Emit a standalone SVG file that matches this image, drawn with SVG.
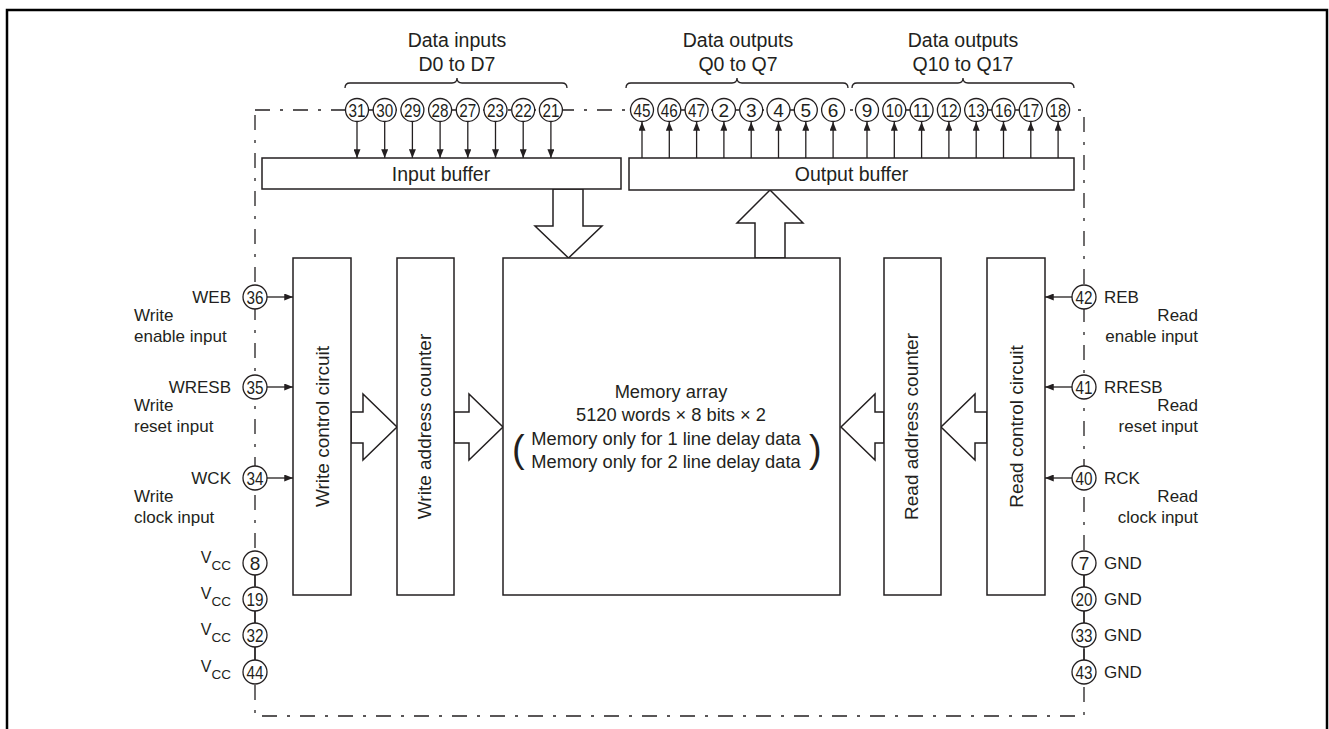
<svg xmlns="http://www.w3.org/2000/svg" width="1329" height="729" viewBox="0 0 1329 729">
<style>
text{font-family:"Liberation Sans",Arial,sans-serif;fill:#231f20;font-size:17px}
.h{font-size:19.5px}
.mem{font-size:18.3px}
.v{font-size:19px}
.m{text-anchor:middle}
.e{text-anchor:end}
.n{font-size:19px;text-anchor:middle}
.box{fill:#fff;stroke:#231f20;stroke-width:1.5}
.pin{fill:#fff;stroke:#231f20;stroke-width:1.3}
.ln{stroke:#231f20;stroke-width:1.3;fill:none}
.dd{stroke:#231f20;stroke-width:1.3;fill:none;stroke-dasharray:15 10 3 10}
.ha{fill:#fff;stroke:#231f20;stroke-width:1.5}
.br{stroke:#231f20;stroke-width:1.3;fill:none}
</style>
<defs>
<marker id="ah" viewBox="0 0 10 8" refX="10" refY="4" markerWidth="10" markerHeight="7" markerUnits="userSpaceOnUse" orient="auto"><path d="M0,0 L10,4 L0,8 z" fill="#231f20"/></marker>
</defs>
<rect width="1329" height="729" fill="#fff"/>
<path d="M7,740 V10 H1327 V740" fill="none" stroke="#000" stroke-width="2.5"/>

<g id="frame">
<path class="dd" d="M255,110 H1084 V716 H255 Z"/>
<path class="ln" d="M255,563 V672 M1084,563 V672"/>
</g>

<g id="connectors">
<g class="ln" marker-end="url(#ah)">
<line x1="357" y1="121" x2="357" y2="158"/>
<line x1="384.7" y1="121" x2="384.7" y2="158"/>
<line x1="412.4" y1="121" x2="412.4" y2="158"/>
<line x1="440.1" y1="121" x2="440.1" y2="158"/>
<line x1="467.8" y1="121" x2="467.8" y2="158"/>
<line x1="495.5" y1="121" x2="495.5" y2="158"/>
<line x1="523.2" y1="121" x2="523.2" y2="158"/>
<line x1="550.9" y1="121" x2="550.9" y2="158"/>
<line x1="642" y1="158" x2="642" y2="122"/>
<line x1="669.3" y1="158" x2="669.3" y2="122"/>
<line x1="696.6" y1="158" x2="696.6" y2="122"/>
<line x1="723.9" y1="158" x2="723.9" y2="122"/>
<line x1="751.2" y1="158" x2="751.2" y2="122"/>
<line x1="778.5" y1="158" x2="778.5" y2="122"/>
<line x1="805.8" y1="158" x2="805.8" y2="122"/>
<line x1="833.1" y1="158" x2="833.1" y2="122"/>
<line x1="867" y1="158" x2="867" y2="122"/>
<line x1="894.3" y1="158" x2="894.3" y2="122"/>
<line x1="921.6" y1="158" x2="921.6" y2="122"/>
<line x1="948.9" y1="158" x2="948.9" y2="122"/>
<line x1="976.2" y1="158" x2="976.2" y2="122"/>
<line x1="1003.5" y1="158" x2="1003.5" y2="122"/>
<line x1="1030.8" y1="158" x2="1030.8" y2="122"/>
<line x1="1058.1" y1="158" x2="1058.1" y2="122"/>
<line x1="267" y1="297" x2="293" y2="297"/>
<line x1="267" y1="387" x2="293" y2="387"/>
<line x1="267" y1="478" x2="293" y2="478"/>
<line x1="1072" y1="297" x2="1045" y2="297"/>
<line x1="1072" y1="387" x2="1045" y2="387"/>
<line x1="1072" y1="478" x2="1045" y2="478"/>
</g>
<polygon class="ha" points="553,189 583,189 583,226 602,226 568.5,258 535,226 553,226"/>
<polygon class="ha" points="755,258 755,223 737,223 770,190 803,223 785,223 785,258"/>
<polygon class="ha" points="351,412 363,412 363,394 397,427 363,460 363,443 351,443"/>
<polygon class="ha" points="454,412 469,412 469,394 503,427 469,460 469,443 454,443"/>
<polygon class="ha" points="884,412 875,412 875,394 841,427 875,460 875,443 884,443"/>
<polygon class="ha" points="987,412 975,412 975,394 941,427 975,460 975,443 987,443"/>
</g>

<g id="braces">
<path class="br" d="M345,88 Q345,83 350,83 H452 Q457,83 457,78 Q457,83 462,83 H562 Q567,83 567,88"/>
<path class="br" d="M626,88 Q626,83 631,83 H732 Q737,83 737,78 Q737,83 742,83 H843 Q848,83 848,88"/>
<path class="br" d="M852,88 Q852,83 857,83 H958 Q963,83 963,78 Q963,83 968,83 H1069 Q1074,83 1074,88"/>
<text class="h m" x="457" y="47">Data inputs</text>
<text class="h m" x="457" y="71">D0 to D7</text>
<text class="h m" x="738" y="47">Data outputs</text>
<text class="h m" x="738" y="71">Q0 to Q7</text>
<text class="h m" x="963" y="47">Data outputs</text>
<text class="h m" x="963" y="71">Q10 to Q17</text>
</g>

<g id="input-buffer">
<rect class="box" x="262" y="158" width="359" height="31"/>
<text class="h m" x="441" y="181">Input buffer</text>
</g>
<g id="output-buffer">
<rect class="box" x="629" y="158" width="445" height="32"/>
<text class="h m" x="851.5" y="181">Output buffer</text>
</g>

<g id="memory-array">
<rect class="box" x="503" y="258" width="337" height="337"/>
<text class="mem m" x="671" y="398">Memory array</text>
<text class="mem m" x="671" y="421">5120 words × 8 bits × 2</text>
<text class="mem m" x="666" y="445">Memory only for 1 line delay data</text>
<text class="mem m" x="666" y="468">Memory only for 2 line delay data</text>
<text x="512" y="462" style="font-size:38px">(</text>
<text x="809" y="462" style="font-size:38px">)</text>
</g>

<g id="write-control">
<rect class="box" x="293" y="258" width="58" height="337"/>
<text class="v m" transform="translate(328.5,426.5) rotate(-90)">Write control circuit</text>
</g>
<g id="write-address">
<rect class="box" x="397" y="258" width="57" height="337"/>
<text class="v m" transform="translate(430.5,426.5) rotate(-90)">Write address counter</text>
</g>
<g id="read-address">
<rect class="box" x="884" y="258" width="57" height="337"/>
<text class="v m" transform="translate(918,426.5) rotate(-90)">Read address counter</text>
</g>
<g id="read-control">
<rect class="box" x="987" y="258" width="58" height="337"/>
<text class="v m" transform="translate(1023,426.5) rotate(-90)">Read control circuit</text>
</g>

<g id="pins-data-in">
<circle class="pin" cx="357" cy="110" r="11.5"/><text class="n" x="357" y="117" textLength="17" lengthAdjust="spacingAndGlyphs">31</text>
<circle class="pin" cx="384.7" cy="110" r="11.5"/><text class="n" x="384.7" y="117" textLength="17" lengthAdjust="spacingAndGlyphs">30</text>
<circle class="pin" cx="412.4" cy="110" r="11.5"/><text class="n" x="412.4" y="117" textLength="17" lengthAdjust="spacingAndGlyphs">29</text>
<circle class="pin" cx="440.1" cy="110" r="11.5"/><text class="n" x="440.1" y="117" textLength="17" lengthAdjust="spacingAndGlyphs">28</text>
<circle class="pin" cx="467.8" cy="110" r="11.5"/><text class="n" x="467.8" y="117" textLength="17" lengthAdjust="spacingAndGlyphs">27</text>
<circle class="pin" cx="495.5" cy="110" r="11.5"/><text class="n" x="495.5" y="117" textLength="17" lengthAdjust="spacingAndGlyphs">23</text>
<circle class="pin" cx="523.2" cy="110" r="11.5"/><text class="n" x="523.2" y="117" textLength="17" lengthAdjust="spacingAndGlyphs">22</text>
<circle class="pin" cx="550.9" cy="110" r="11.5"/><text class="n" x="550.9" y="117" textLength="17" lengthAdjust="spacingAndGlyphs">21</text>
</g>
<g id="pins-data-out-q0">
<circle class="pin" cx="642" cy="110" r="11.5"/><text class="n" x="642" y="117" textLength="17" lengthAdjust="spacingAndGlyphs">45</text>
<circle class="pin" cx="669.3" cy="110" r="11.5"/><text class="n" x="669.3" y="117" textLength="17" lengthAdjust="spacingAndGlyphs">46</text>
<circle class="pin" cx="696.6" cy="110" r="11.5"/><text class="n" x="696.6" y="117" textLength="17" lengthAdjust="spacingAndGlyphs">47</text>
<circle class="pin" cx="723.9" cy="110" r="11.5"/><text class="n" x="723.9" y="117">2</text>
<circle class="pin" cx="751.2" cy="110" r="11.5"/><text class="n" x="751.2" y="117">3</text>
<circle class="pin" cx="778.5" cy="110" r="11.5"/><text class="n" x="778.5" y="117">4</text>
<circle class="pin" cx="805.8" cy="110" r="11.5"/><text class="n" x="805.8" y="117">5</text>
<circle class="pin" cx="833.1" cy="110" r="11.5"/><text class="n" x="833.1" y="117">6</text>
</g>
<g id="pins-data-out-q10">
<circle class="pin" cx="867" cy="110" r="11.5"/><text class="n" x="867" y="117">9</text>
<circle class="pin" cx="894.3" cy="110" r="11.5"/><text class="n" x="894.3" y="117" textLength="17" lengthAdjust="spacingAndGlyphs">10</text>
<circle class="pin" cx="921.6" cy="110" r="11.5"/><text class="n" x="921.6" y="117" textLength="17" lengthAdjust="spacingAndGlyphs">11</text>
<circle class="pin" cx="948.9" cy="110" r="11.5"/><text class="n" x="948.9" y="117" textLength="17" lengthAdjust="spacingAndGlyphs">12</text>
<circle class="pin" cx="976.2" cy="110" r="11.5"/><text class="n" x="976.2" y="117" textLength="17" lengthAdjust="spacingAndGlyphs">13</text>
<circle class="pin" cx="1003.5" cy="110" r="11.5"/><text class="n" x="1003.5" y="117" textLength="17" lengthAdjust="spacingAndGlyphs">16</text>
<circle class="pin" cx="1030.8" cy="110" r="11.5"/><text class="n" x="1030.8" y="117" textLength="17" lengthAdjust="spacingAndGlyphs">17</text>
<circle class="pin" cx="1058.1" cy="110" r="11.5"/><text class="n" x="1058.1" y="117" textLength="17" lengthAdjust="spacingAndGlyphs">18</text>
</g>

<g id="pins-left">
<circle class="pin" cx="255" cy="297" r="12"/><text class="n" x="255" y="304" textLength="17" lengthAdjust="spacingAndGlyphs">36</text>
<text class="e" x="231" y="303">WEB</text>
<text x="134" y="321">Write</text><text x="134" y="342">enable input</text>
<circle class="pin" cx="255" cy="387" r="12"/><text class="n" x="255" y="394" textLength="17" lengthAdjust="spacingAndGlyphs">35</text>
<text class="e" x="231" y="393">WRESB</text>
<text x="134" y="411">Write</text><text x="134" y="432">reset input</text>
<circle class="pin" cx="255" cy="478" r="12"/><text class="n" x="255" y="485" textLength="17" lengthAdjust="spacingAndGlyphs">34</text>
<text class="e" x="231" y="484">WCK</text>
<text x="134" y="502">Write</text><text x="134" y="523">clock input</text>
<circle class="pin" cx="255" cy="563" r="12"/><text class="n" x="255" y="570">8</text>
<text class="e" x="231" y="563" style="font-size:16px">V<tspan dy="7" style="font-size:13.5px">CC</tspan></text>
<circle class="pin" cx="255" cy="599" r="12"/><text class="n" x="255" y="606" textLength="17" lengthAdjust="spacingAndGlyphs">19</text>
<text class="e" x="231" y="599" style="font-size:16px">V<tspan dy="7" style="font-size:13.5px">CC</tspan></text>
<circle class="pin" cx="255" cy="635" r="12"/><text class="n" x="255" y="642" textLength="17" lengthAdjust="spacingAndGlyphs">32</text>
<text class="e" x="231" y="635" style="font-size:16px">V<tspan dy="7" style="font-size:13.5px">CC</tspan></text>
<circle class="pin" cx="255" cy="672" r="12"/><text class="n" x="255" y="679" textLength="17" lengthAdjust="spacingAndGlyphs">44</text>
<text class="e" x="231" y="672" style="font-size:16px">V<tspan dy="7" style="font-size:13.5px">CC</tspan></text>
</g>

<g id="pins-right">
<circle class="pin" cx="1084" cy="297" r="12"/><text class="n" x="1084" y="304" textLength="17" lengthAdjust="spacingAndGlyphs">42</text>
<text x="1104" y="303">REB</text>
<text class="e" x="1198" y="321">Read</text><text class="e" x="1198" y="342">enable input</text>
<circle class="pin" cx="1084" cy="387" r="12"/><text class="n" x="1084" y="394" textLength="17" lengthAdjust="spacingAndGlyphs">41</text>
<text x="1104" y="393">RRESB</text>
<text class="e" x="1198" y="411">Read</text><text class="e" x="1198" y="432">reset input</text>
<circle class="pin" cx="1084" cy="478" r="12"/><text class="n" x="1084" y="485" textLength="17" lengthAdjust="spacingAndGlyphs">40</text>
<text x="1104" y="484">RCK</text>
<text class="e" x="1198" y="502">Read</text><text class="e" x="1198" y="523">clock input</text>
<circle class="pin" cx="1084" cy="563" r="12"/><text class="n" x="1084" y="570">7</text>
<text x="1104" y="569">GND</text>
<circle class="pin" cx="1084" cy="599" r="12"/><text class="n" x="1084" y="606" textLength="17" lengthAdjust="spacingAndGlyphs">20</text>
<text x="1104" y="605">GND</text>
<circle class="pin" cx="1084" cy="635" r="12"/><text class="n" x="1084" y="642" textLength="17" lengthAdjust="spacingAndGlyphs">33</text>
<text x="1104" y="641">GND</text>
<circle class="pin" cx="1084" cy="672" r="12"/><text class="n" x="1084" y="679" textLength="17" lengthAdjust="spacingAndGlyphs">43</text>
<text x="1104" y="678">GND</text>
</g>
</svg>
